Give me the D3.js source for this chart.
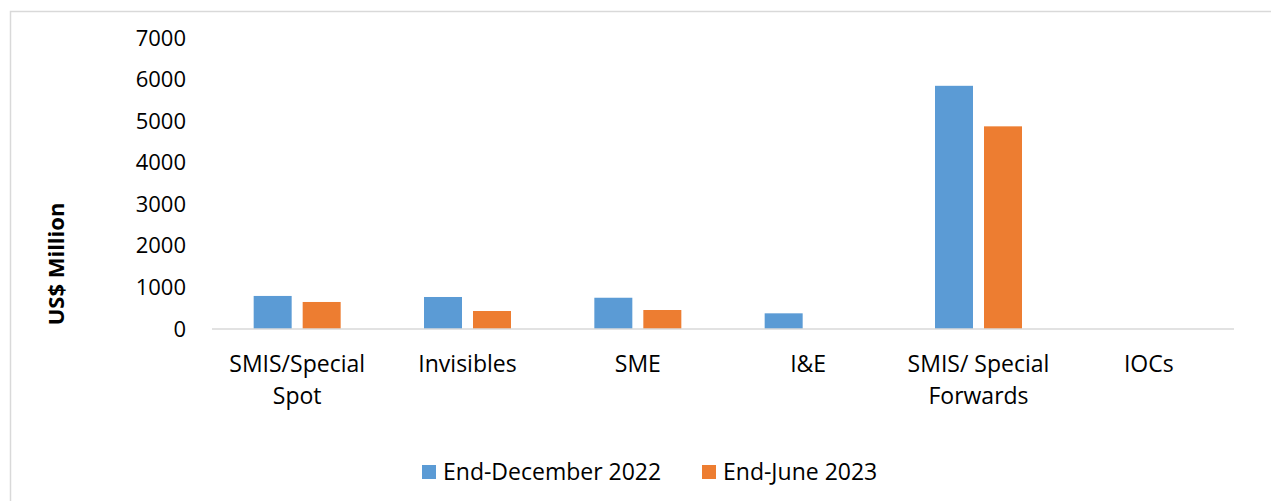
<!DOCTYPE html>
<html>
<head>
<meta charset="utf-8">
<script src="https://cdn.jsdelivr.net/npm/d3@7"></script>
<style>
  body { margin: 0; background: #fff; }
  svg { display: block; font-family: 'Open Sans', 'Noto Sans', sans-serif; }
</style>
</head>
<body>
<svg id="chart"></svg>
<script>
// values (US$ million)
const categories = [['SMIS/Special', 'Spot'], ['Invisibles'], ['SME'], ['I&E'], ['SMIS/ Special', 'Forwards'], ['IOCs']];
const seriesNames = ['End-December 2022', 'End-June 2023'];
const decValues = [795, 770, 752, 377, 5850, 0];
const junValues = [650, 433, 457, 0, 4875, 0];
const yTicks = [0, 1000, 2000, 3000, 4000, 5000, 6000, 7000];
const colors = ['#5b9bd5', '#ed7d31'];

const width = 1271, height = 501;
const margin = {left: 212, right: 37, top: 38, bottom: 172};

const svg = d3.select('#chart').attr('width', width).attr('height', height);

// outer frame (only top + left edges end up in view)
svg.append('rect')
  .attr('x', 10.5).attr('y', 11.5)
  .attr('width', width + 20).attr('height', height + 20)
  .attr('fill', 'none').attr('stroke', '#d9d9d9').attr('stroke-width', 1.5);

const x = d3.scaleBand()
  .domain(d3.range(categories.length))
  .range([margin.left, width - margin.right]);

const y = d3.scaleLinear()
  .domain([0, 7000])
  .range([height - margin.bottom, margin.top]);

const barW = 38, gap = 11;

const rows = categories.map((c, i) => ({i: i, vals: [decValues[i], junValues[i]]}));

const g = svg.append('g');
rows.forEach(r => {
  const cx = x(r.i) + x.bandwidth() / 2;
  r.vals.forEach((v, k) => {
    if (!v) return;
    const x0 = k === 0 ? cx - gap / 2 - barW : cx + gap / 2;
    g.append('rect')
      .attr('x', x0)
      .attr('y', y(v))
      .attr('width', barW)
      .attr('height', y(0) - y(v))
      .attr('fill', colors[k]);
  });
});

// baseline
svg.append('line')
  .attr('x1', margin.left).attr('x2', width - margin.right)
  .attr('y1', y(0)).attr('y2', y(0))
  .attr('stroke', '#d9d9d9').attr('stroke-width', 1.5);

// y axis labels
const yAxis = d3.axisLeft(y).tickValues(yTicks).tickSize(0).tickPadding(0).tickFormat(d3.format('d'));
const ya = svg.append('g').attr('transform', 'translate(186,0)').call(yAxis);
ya.select('.domain').remove();
ya.selectAll('text').attr('font-size', 22).attr('fill', '#000').attr('font-family', "'Open Sans', sans-serif");

svg.append('text')
  .attr('transform', 'translate(64,264) rotate(-90)')
  .attr('text-anchor', 'middle')
  .attr('font-size', 22).attr('font-weight', 'bold')
  .text('US$ Million');

// category labels
rows.forEach(r => {
  const cx = x(r.i) + x.bandwidth() / 2;
  const t = svg.append('text')
    .attr('text-anchor', 'middle')
    .attr('font-size', 23);
  categories[r.i].forEach((line, j) => {
    t.append('tspan').attr('x', cx).attr('y', 372 + j * 32).text(line);
  });
});

// legend
const legendX = [422, 702];
seriesNames.forEach((name, k) => {
  svg.append('rect')
    .attr('x', legendX[k]).attr('y', 465)
    .attr('width', 14).attr('height', 14)
    .attr('fill', colors[k]);
  svg.append('text')
    .attr('x', legendX[k] + 21).attr('y', 480)
    .attr('font-size', 23)
    .text(name);
});
</script>
</body>
</html>
